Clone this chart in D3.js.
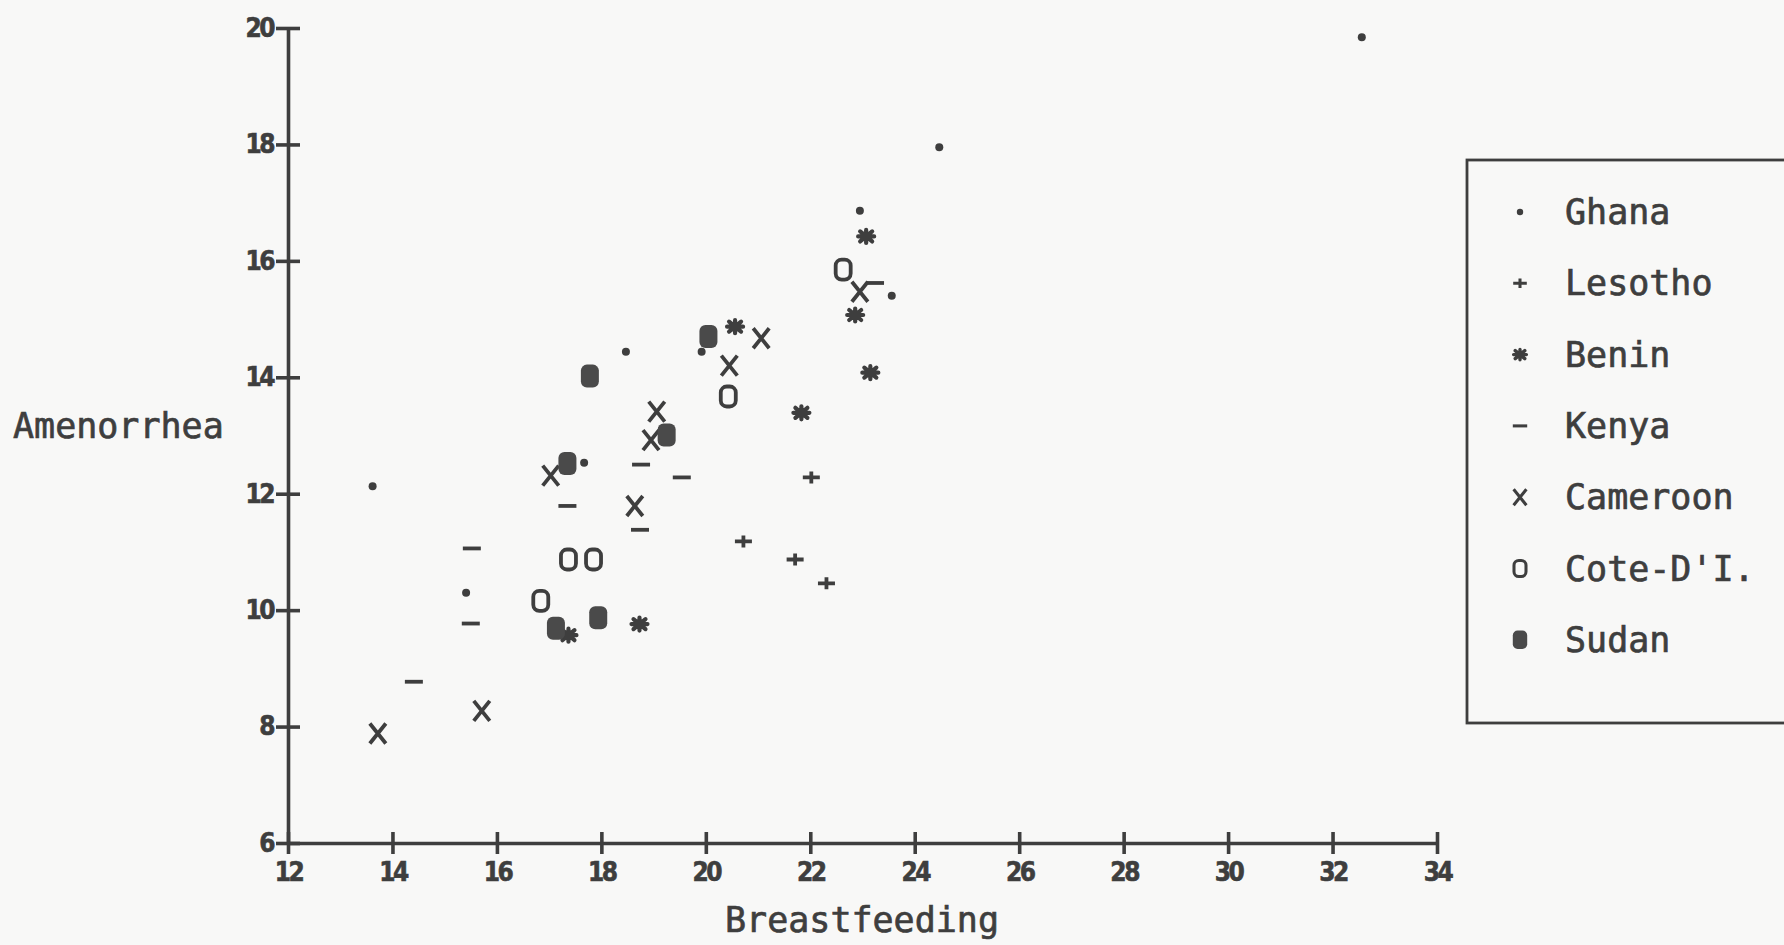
<!DOCTYPE html>
<html>
<head>
<meta charset="utf-8">
<script src="https://cdn.jsdelivr.net/npm/d3@7"></script>
<style>
  body { margin: 0; background: #f8f8f7; }
  svg { display: block; }
</style>
</head>
<body>
<div id="chart"></div>
<script>
// country groups, in legend order
var countries = ["Ghana", "Lesotho", "Benin", "Kenya", "Cameroon", "Cote-D'I.", "Sudan"];
var symbols = ["dot", "plus", "star", "dash", "cross", "ring", "block"];

// Breastfeeding (months) and Amenorrhea (months)
var ghanaX    = [13.62, 15.41, 17.67, 18.47, 19.92, 22.95, 23.56, 24.47, 32.56];
var ghanaY    = [12.13, 10.30, 12.53, 14.44, 14.44, 16.86, 15.40, 17.95, 19.84];
var lesothoX  = [20.72, 21.71, 22.02, 22.31];
var lesothoY  = [11.18, 10.87, 12.28, 10.46];
var beninX    = [17.37, 18.73, 20.56, 21.83, 22.86, 23.07, 23.15];
var beninY    = [9.57, 9.76, 14.87, 13.39, 15.07, 16.42, 14.08];
var kenyaX    = [14.41, 15.50, 15.52, 17.35, 18.74, 18.76, 19.54, 23.24];
var kenyaY    = [8.77, 9.77, 11.06, 11.79, 11.38, 12.50, 12.28, 15.62];
var cameroonX = [13.72, 15.71, 17.03, 18.64, 18.95, 19.06, 20.45, 21.06, 22.95];
var cameroonY = [7.88, 8.27, 12.31, 11.79, 12.92, 13.41, 14.20, 14.67, 15.47];
var coteX     = [16.84, 17.37, 17.85, 20.43, 22.63];
var coteY     = [10.16, 10.87, 10.87, 13.67, 15.85];
var sudanX    = [17.13, 17.35, 17.78, 17.94, 19.25, 20.05];
var sudanY    = [9.69, 12.52, 14.02, 9.87, 13.01, 14.70];

var xTicks = [12, 14, 16, 18, 20, 22, 24, 26, 28, 30, 32, 34];
var yTicks = [6, 8, 10, 12, 14, 16, 18, 20];

var allX = [ghanaX, lesothoX, beninX, kenyaX, cameroonX, coteX, sudanX];
var allY = [ghanaY, lesothoY, beninY, kenyaY, cameroonY, coteY, sudanY];

var ink = "#3e3e3e";
var W = 1784, H = 945;

var svg = d3.select("#chart").append("svg")
    .attr("width", W)
    .attr("height", H);

var x = d3.scaleLinear().domain([12, 34]).range([288, 1437]);
var y = d3.scaleLinear().domain([6, 20]).range([843, 28]);

// draws one plot symbol into a group centred on 0,0
function drawSymbol(g, type) {
    var sw = 3.8;
    if (type == "dot") {
        g.append("circle").attr("r", 4).attr("fill", ink);
    } else if (type == "plus") {
        g.append("path").attr("d", "M-8.5,0H8.5M0,-6V6")
            .attr("stroke", ink).attr("stroke-width", sw);
    } else if (type == "star") {
        g.append("path").attr("d", "M-8,0H8M0,-6.5V6.5M-6,-5L6,5M-6,5L6,-5")
            .attr("stroke", ink).attr("stroke-width", 4.2).attr("stroke-linecap", "round");
    } else if (type == "dash") {
        g.append("path").attr("d", "M-9,0H9")
            .attr("stroke", ink).attr("stroke-width", sw);
    } else if (type == "cross") {
        g.append("path").attr("d", "M-8,-10L8,10M-8,10L8,-10")
            .attr("stroke", ink).attr("stroke-width", sw);
    } else if (type == "ring") {
        g.append("rect").attr("x", -7.5).attr("y", -10).attr("width", 15).attr("height", 20)
            .attr("rx", 6).attr("fill", "none")
            .attr("stroke", ink).attr("stroke-width", sw);
    } else if (type == "block") {
        g.append("rect").attr("x", -9).attr("y", -11.5).attr("width", 18).attr("height", 23)
            .attr("rx", 6).attr("fill", "#4a4a4a");
    }
}

// x axis, ticks crossing the line
var xAxis = svg.append("g")
    .attr("transform", "translate(0,843)")
    .call(d3.axisBottom(x).tickValues(xTicks).tickSize(11).tickSizeOuter(0).tickPadding(9));
xAxis.selectAll(".tick line").attr("y1", -11).attr("y2", 11);

// y axis
var yAxis = svg.append("g")
    .attr("transform", "translate(288,0)")
    .call(d3.axisLeft(y).tickValues(yTicks).tickSize(12).tickSizeOuter(0).tickPadding(3));
yAxis.selectAll(".tick line").attr("x1", -12).attr("x2", 12);

svg.selectAll(".domain, .tick line")
    .attr("stroke", ink)
    .attr("stroke-width", 3.6);
svg.selectAll(".tick text")
    .attr("fill", ink)
    .attr("stroke", ink).attr("stroke-width", 0.6)
    .style("font-family", "'DejaVu Sans Condensed', 'DejaVu Sans'")
    .style("font-weight", "bold")
    .style("font-size", "26px")
    .style("letter-spacing", "-2.5px");

// axis titles
var labelFont = "'DejaVu Sans Mono', monospace";
svg.append("text")
    .attr("x", 862).attr("y", 932)
    .attr("text-anchor", "middle")
    .style("font-family", labelFont).style("font-size", "35px")
    .attr("fill", ink).attr("stroke", ink).attr("stroke-width", 0.7)
    .text("Breastfeeding");

svg.append("text")
    .attr("x", 13).attr("y", 438)
    .style("font-family", labelFont).style("font-size", "35px")
    .attr("fill", ink).attr("stroke", ink).attr("stroke-width", 0.7)
    .text("Amenorrhea");

// points
for (var c = 0; c < countries.length; c++) {
    var pts = allX[c].map(function(v, i) { return {x: v, y: allY[c][i]}; });
    var type = symbols[c];
    svg.append("g").attr("class", "country").selectAll("g")
        .data(pts)
        .enter().append("g")
        .attr("transform", function(d) { return "translate(" + x(d.x) + "," + y(d.y) + ")"; })
        .each(function() { drawSymbol(d3.select(this), type); });
}

// legend box, its right side runs off the page
svg.append("rect")
    .attr("x", 1467).attr("y", 160)
    .attr("width", 400).attr("height", 563)
    .attr("fill", "none")
    .attr("stroke", ink).attr("stroke-width", 2.8);

var legend = svg.append("g").selectAll("g")
    .data(countries)
    .enter().append("g")
    .attr("transform", function(d, i) { return "translate(0," + (212 + i * 71.3) + ")"; });

legend.each(function(d, i) {
    var s = d3.select(this).append("g").attr("transform", "translate(1520,0) scale(0.8)");
    drawSymbol(s, symbols[i]);
});

legend.append("text")
    .attr("x", 1565).attr("y", 12)
    .style("font-family", labelFont).style("font-size", "35px")
    .attr("fill", ink).attr("stroke", ink).attr("stroke-width", 0.7)
    .text(function(d) { return d; });
</script>
</body>
</html>
